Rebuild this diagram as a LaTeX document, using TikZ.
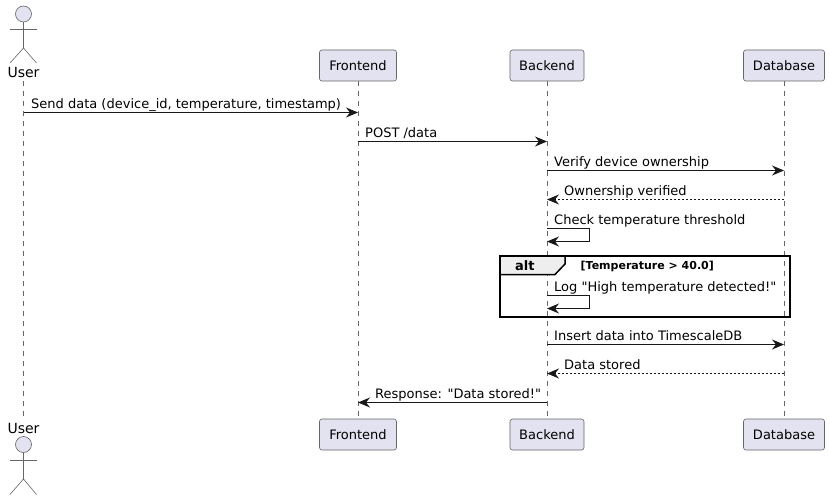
\documentclass[tikz,border=0pt]{standalone}
\usepackage{fontspec}
\setmainfont{DejaVu Sans}[Ligatures=TeXOff]
\usetikzlibrary{arrows.meta,calc}
\definecolor{ink}{HTML}{181818}
\definecolor{thinline}{HTML}{666666}
\definecolor{partfill}{HTML}{E2E2F0}
\definecolor{framefill}{HTML}{EEEEEE}
\tikzset{
  part/.style={draw=thinline,fill=partfill,line width=.6pt,rounded corners=2.5pt,minimum height=31pt,inner sep=0pt,font=\fontsize{13}{15}\selectfont},
  lifeline/.style={draw=thinline,line width=.5pt,dash pattern=on 5pt off 5pt},
  msg/.style={draw=ink,line width=1pt,-{Stealth[length=12pt,width=10pt,inset=4pt,fill=ink]}},
  reply/.style={msg,dash pattern=on 2pt off 2pt},
  lbl/.style={anchor=base west,inner sep=0pt,text=black,yshift=-.6pt,font=\fontsize{13}{15}\selectfont},
  actorname/.style={anchor=base,inner sep=0pt,text=black,font=\fontsize{14}{16}\selectfont},
  limb/.style={draw=thinline,line width=.6pt},
  head/.style={draw=thinline,fill=partfill,line width=.6pt,circle,minimum size=16pt,inner sep=0pt},
  frameline/.style={draw=black,line width=1.5pt}
}
\begin{document}
\begin{tikzpicture}[x=1pt,y=-1pt]
\useasboundingbox (0,0) rectangle (829,500);
% participants
\node[part,minimum width=77pt] (fT) at (358,65.5) {Frontend};
\node[part,minimum width=74pt] (bT) at (547,65.5) {Backend};
\node[part,minimum width=81pt] (dT) at (784,65.5) {Database};
\node[part,minimum width=77pt] (fB) at (358,434.5) {Frontend};
\node[part,minimum width=74pt] (bB) at (547,434.5) {Backend};
\node[part,minimum width=81pt] (dB) at (784,434.5) {Database};
% actors
\node[head] (uH) at (23.5,14) {};
\coordinate (uHip) at (23.5,48);
\coordinate (uArmL) at (10,29);
\coordinate (uArmR) at (36.5,29);
\coordinate (uLegL) at (10,63);
\coordinate (uLegR) at (36.5,63);
\draw[limb] (uH.south) -- (uHip);
\draw[limb] (uArmL) -- (uArmR);
\draw[limb] (uLegL) -- (uHip) -- (uLegR);
\node[actorname] (uT) at (23.5,78) {User};
\node[actorname] (uB) at (23.5,433) {User};
\node[head] (uH2) at (23.5,444.5) {};
\coordinate (vHip) at (23.5,479);
\coordinate (vArmL) at (10,460);
\coordinate (vArmR) at (36.5,460);
\coordinate (vLegL) at (10,494.5);
\coordinate (vLegR) at (36.5,494.5);
\draw[limb] (uH2.south) -- (vHip);
\draw[limb] (vArmL) -- (vArmR);
\draw[limb] (vLegL) -- (vHip) -- (vLegR);
% lifelines
\coordinate (uTop) at (23.5,81);
\coordinate (uBot) at (23.5,416);
\draw[lifeline] (uTop) -- (uBot);
\draw[lifeline] (fT.south) -- (fB.north);
\draw[lifeline] (bT.south) -- (bB.north);
\draw[lifeline] (dT.south) -- (dB.north);
% message rows
\coordinate (m1) at (0,112.5);
\coordinate (m2) at (0,141.5);
\coordinate (m3) at (0,170.5);
\coordinate (m4) at (0,199.5);
\coordinate (m5a) at (0,228.5);
\coordinate (m5b) at (0,241.5);
\coordinate (m6a) at (0,295.5);
\coordinate (m6b) at (0,308.5);
\coordinate (m7) at (0,344.5);
\coordinate (m8) at (0,373.5);
\coordinate (m9) at (0,402.5);
\coordinate (selfx) at (589.5,0);
% alt frame
\node[inner sep=0pt,minimum size=0pt] (altTL) at (500,256) {};
\node[inner sep=0pt,minimum size=0pt] (altBR) at (790,317) {};
\fill[framefill] (altTL.center) -- (565,256) -- (565,264) -- (555,274.5) -- (500,274.5) -- cycle;
\draw[frameline] (565,256) -- (565,264) -- (555,274.5) -- (500,274.5);
\draw[frameline] (altTL.center) rectangle (altBR.center);
\node[anchor=base west,inner sep=0pt,font=\bfseries\fontsize{13}{15}\selectfont] (altL) at (515,270) {alt};
\node[anchor=base west,inner sep=0pt,font=\bfseries\fontsize{11}{13}\selectfont] (altG) at (580.5,269) {[Temperature > 40.0]};
% messages
\draw[msg] (uTop |- m1) -- (fT.south |- m1);
\node[lbl] (t1) at (31,107.5) {Send data (device\_id, temperature, timestamp)};
\draw[msg] (fT.south |- m2) -- (bT.south |- m2);
\node[lbl] (t2) at (365,136.5) {POST /data};
\draw[msg] (bT.south |- m3) -- (dT.south |- m3);
\node[lbl] (t3) at (554,165.5) {Verify device ownership};
\draw[reply] (dT.south |- m4) -- (bT.south |- m4);
\node[lbl] (t4) at (564,194.5) {Ownership verified};
\draw[msg] (bT.south |- m5a) -- (selfx |- m5a) -- (selfx |- m5b) -- (bT.south |- m5b);
\node[lbl] (t5) at (554,223.5) {Check temperature threshold};
\draw[msg] (bT.south |- m6a) -- (selfx |- m6a) -- (selfx |- m6b) -- (bT.south |- m6b);
\node[lbl] (t6) at (554,290.5) {Log "High temperature detected!"};
\draw[msg] (bT.south |- m7) -- (dT.south |- m7);
\node[lbl] (t7) at (554,339.5) {Insert data into TimescaleDB};
\draw[reply] (dT.south |- m8) -- (bT.south |- m8);
\node[lbl] (t8) at (564,368.5) {Data stored};
\draw[msg] (bT.south |- m9) -- (fT.south |- m9);
\node[lbl] (t9) at (375,397.5) {Response: "Data stored!"};
\end{tikzpicture}
\end{document}
